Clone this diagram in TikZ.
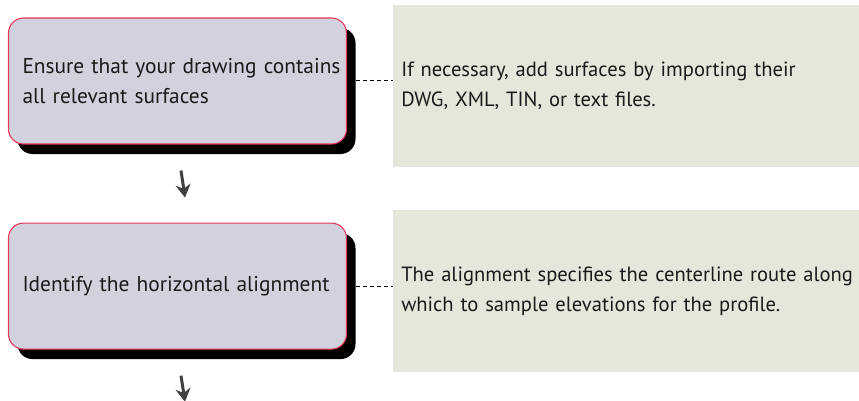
\documentclass[tikz,border=0pt]{standalone}
\usepackage{fontspec}
\setmainfont{PT Sans}
\usetikzlibrary{positioning,shadows,arrows.meta}
\definecolor{stepFill}{HTML}{D2D2DE}
\definecolor{stepEdge}{HTML}{E8385A}
\definecolor{noteFill}{HTML}{E4E8DA}
\definecolor{flowGray}{HTML}{404040}
\definecolor{inkText}{HTML}{1A1A1A}

\begin{document}
\begin{tikzpicture}[
    x=1pt, y=-1pt,
    node distance=46pt,
    stepbox/.style={fill=stepFill, draw=stepEdge, line width=1.1pt,
                    rounded corners=15pt, minimum width=338pt, minimum height=126pt,
                    text width=310pt, inner xsep=14pt, align=left, text=inkText,
                    font=\fontsize{21.4}{30}\selectfont,
                    drop shadow={shadow xshift=9pt, shadow yshift=-10pt,
                                 fill=black, opacity=1}},
    notebox/.style={fill=noteFill, minimum width=470pt, minimum height=162pt,
                    text width=454pt, inner xsep=8pt, align=left, text=inkText,
                    font=\fontsize{20.6}{30}\selectfont, yshift=-5pt},
    link/.style={dash pattern=on 4pt off 3pt, line width=1pt},
    flow/.style={-{Stealth[length=13pt,width=15pt]}, line width=3pt, color=flowGray}
  ]
  \useasboundingbox (0,0) rectangle (859,401);

  % steps
  \node[stepbox] (s1) at (177.5,81) {\mbox{Ensure that your drawing contains}\\
    all relevant surfaces};
  \node[stepbox, below=78pt of s1] (s2) {Identify the horizontal alignment};

  % notes
  \node[notebox, right=of s1] (n1) {If necessary, add surfaces by importing their\\
    DWG, XML, TIN, or text files.};
  \node[notebox, right=of s2] (n2) {The alignment specifies the centerline route along\\
    which to sample elevations for the profile.};

  \draw[link] ([xshift=9pt]s1.east) -- (s1.east -| n1.west);
  \draw[link] ([xshift=9pt]s2.east) -- (s2.east -| n2.west);

  % flow arrows
  \coordinate (next) at ([shift={(7.5,52)}]s2.south);
  \draw[flow] ([shift={(3.5,26)}]s1.south) -- ([shift={(7.5,-25)}]s2.north);
  \draw[flow] ([shift={(3.5,26)}]s2.south) -- (next);
\end{tikzpicture}
\end{document}
